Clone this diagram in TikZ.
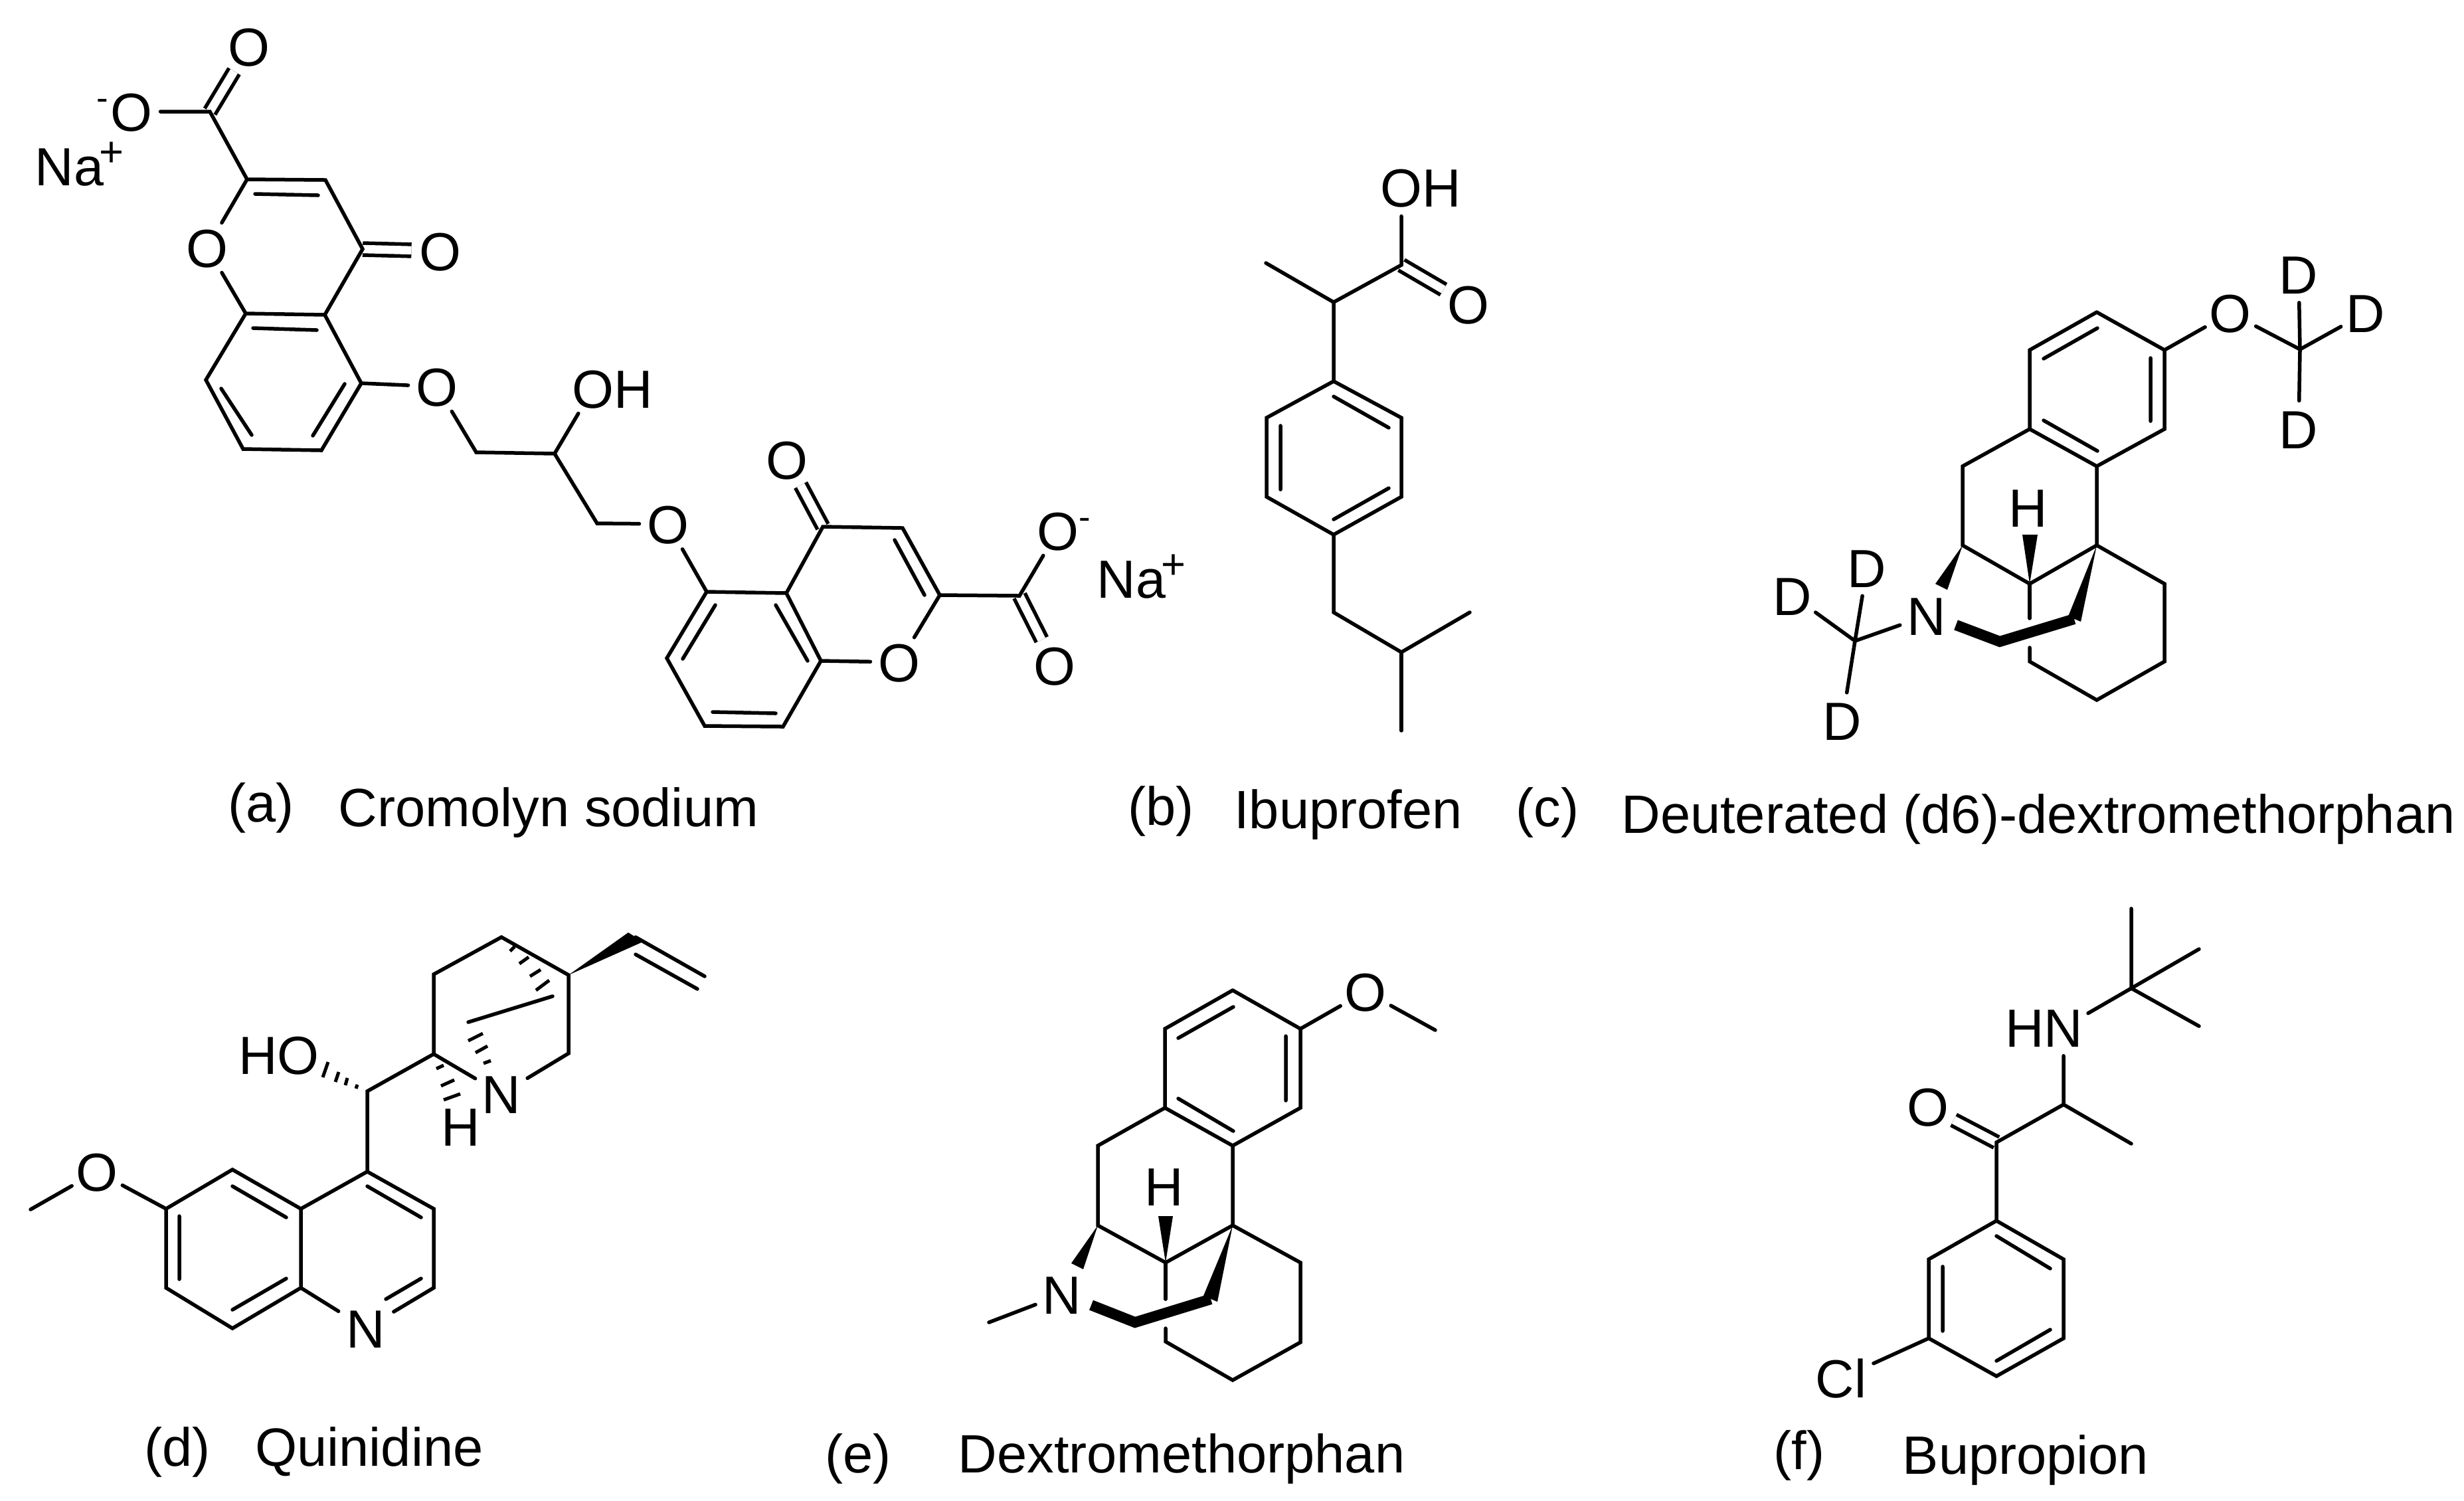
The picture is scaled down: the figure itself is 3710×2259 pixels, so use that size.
\documentclass[tikz,border=0pt]{standalone}
\usepackage{fontspec}
\setmainfont{Liberation Sans}
\newcommand{\atomfnt}{\fontsize{23pt}{25pt}\selectfont}
\newcommand{\capfnt}{\fontsize{23.1pt}{26pt}\selectfont}
\newcommand{\chgminus}{\raisebox{9pt}{\fontsize{15pt}{15pt}\selectfont -}}
\newcommand{\chgplus}{\kern-2pt\raisebox{8pt}{\fontsize{18pt}{18pt}\selectfont +}}
\tikzset{
  bond/.style={line width=0.055cm,line cap=round,line join=miter},
  dblbond/.style={line width=0.055cm,double=white,double distance=0.125cm},
  boldbond/.style={line width=0.16cm,line join=miter,line cap=butt},
  wedgebond/.style={fill=black,draw=none},
  hashtick/.style={line width=0.05cm},
  atom/.style={circle,inner sep=0pt,minimum size=0.84cm,font=\atomfnt,text height=16.5pt,text depth=0pt},
  ionlabel/.style={inner sep=0pt,font=\atomfnt,text height=16.5pt,text depth=0pt,anchor=west},
  captxt/.style={inner sep=0pt,font=\capfnt,text height=16.5pt,text depth=4.8pt}
}
\begin{document}
\begin{tikzpicture}[x=0.01cm,y=-0.01cm]
\useasboundingbox (0,0) rectangle (3710,2259);
% ---------- atoms
\foreach \n/\x/\y in {
 aC/316/168,a2/372/270,a3/490/271,a4/546/375,a4a/489/474,a8a/370/472,a5/544/577,a6/484/678,a7/366/676,a8/310/572,
 a9/717/681,a10/835/683,a11/899/788,
 b5/1064/891,b4a/1184/893,b4/1239/793,b3/1359/795,b2/1415/896,b8a/1236/995,b8/1179/1094,b7/1061/1093,b6/1004/991,bC/1535/897,
 iCO/2110/399,iCH/2008/455,iMe/1906/396,i1/2008/574,i2/2110/629,i3/2110/748,i4/2008/805,i5/1907/748,i6/1907/629,
 iCH2/2008/922,iCH3/2110/982,iM1/2213/922,iM2/2110/1100,
 c1/3157/470,c2/3259/527,c3/3259/646,c4/3157/702,c5/3056/646,c6/3056/527,cM/3463/526,
 c10/2955/702,c9/2955/821,c13/3157/821,c14/3056/879,c15/3056/931,c16/3056/975,
 c17/3259/879,c18/3259/996,c19/3157/1054,c20/3056/996,
 cA/2914/879,cB/2932/888,cW1/3114/928,cW2/3133/936,cH1/3045/805,cH2/3068/805,
 cT1/3123/932,cT2/3011/966,cT3/2945/941,cN/2793/965,
 q1/46/1821,q6/250/1820,q5/350/1761,q4a/453/1820,q8a/453/1939,q8/350/2000,q7/250/1939,
 q4/553/1764,q3/653/1820,q2/653/1939,q9/553/1643,qa/653/1587,qb/653/1467,qc/755/1411,qd/856/1468,qe/856/1586,
 qf/832/1500,qg/705/1539,qV/957/1411,qW/1061/1470,qWa/946/1404,qWb/968/1418,
 e1/1856/1491,e2/1958/1549,e3/1958/1668,e4/1856/1725,e5/1754/1668,e6/1754/1549,eM/2161/1551,
 e10/1653/1725,e9/1653/1845,e13/1856/1845,e14/1755/1901,e15/1755/1956,e16/1755/2000,
 e17/1958/1901,e18/1958/2021,e19/1856/2078,e20/1755/2020,
 eA/1613/1902,eB/1631/1911,eW1/1812/1951,eW2/1833/1960,eH1/1744/1831,eH2/1766/1831,
 eT1/1823/1956,eT2/1709/1991,eT3/1643/1965,eN/1489/1991,
 fC/3209/1488,fU/3209/1368,fR1/3311/1429,fR2/3311/1545,fCH/3107/1663,fMe/3209/1722,fCO/3006/1720,
 f1/3006/1838,f2/3107/1896,f3/3107/2015,f4/3006/2072,f5/2904/2015,f6/2904/1896
} \coordinate (\n) at (\x,\y);
% ---------- heteroatom labels
\node[atom] (aOt) at (375,70) {O};
\node[atom] (aOm) at (198,168) {\llap{\chgminus\kern1pt}O};
\node[ionlabel] (aNa) at (52,250) {Na\chgplus};
\node[atom] (aO1) at (312,373) {O};
\node[atom] (aO4) at (663,378) {O};
\node[atom] (aO5) at (658,582) {O};
\node[atom] (aOH) at (893,585) {O\rlap{H}};
\node[atom] (bO5) at (1006,789) {O};
\node[atom] (bO4) at (1185,692) {O};
\node[atom] (bO1) at (1354,997) {O};
\node[atom] (bOm) at (1593,799) {O\rlap{\chgminus}};
\node[atom] (bOd) at (1588,1002) {O};
\node[ionlabel] (bNa) at (1651,871) {Na\chgplus};
\node[atom] (iOH) at (2110,282) {O\rlap{H}};
\node[atom] (iO) at (2211,458) {O};
\node[atom] (cO) at (3358,471) {O};
\node[atom] (cD1) at (3461,413) {D};
\node[atom] (cD2) at (3562,471) {D};
\node[atom] (cD3) at (3461,646) {D};
\node[atom] (cH) at (3054,764) {H};
\node[atom] (cNn) at (2901,927) {N};
\node[atom] (cD4) at (2811,855) {D};
\node[atom] (cD5) at (2699,897) {D};
\node[atom] (cD6) at (2774,1085) {D};
\node[atom] (qO) at (146,1764) {O};
\node[atom,minimum size=0.96cm] (qN1) at (551,2000) {N};
\node[atom] (qHO) at (449,1588) {\llap{H}O};
\node[atom,minimum size=0.9cm] (qN2) at (755,1647) {N};
\node[atom] (qH) at (694,1696) {H};
\node[atom] (eO) at (2056,1493) {O};
\node[atom] (eH) at (1753,1786) {H};
\node[atom] (eNn) at (1599,1949) {N};
\node[atom] (fN) at (3107,1547) {\llap{H}N};
\node[atom] (fO) at (2903,1666) {O};
\node[atom,minimum size=1.06cm] (fCl) at (2772,2075) {Cl};
% ---------- captions
\node[captxt] (capa) at (393,1217) {(a)};
\node[captxt] (capA) at (826,1224) {Cromolyn sodium};
\node[captxt] (capb) at (1748,1222) {(b)};
\node[captxt] (capB) at (2030,1227) {Ibuprofen};
\node[captxt] (capc) at (2330,1224) {(c)};
\node[captxt] (capC) at (3069,1234) {Deuterated (d6)-dextromethorphan};
\node[captxt] (capd) at (267,2187) {(d)};
\node[captxt] (capD) at (556,2187) {Quinidine};
\node[captxt] (cape) at (1292,2197) {(e)};
\node[captxt] (capE) at (1779,2197) {Dextromethorphan};
\node[captxt] (capf) at (2709,2192) {(f)};
\node[captxt] (capF) at (3050,2199) {Bupropion};
% ---------- double bonds to oxygen
\draw[dblbond] (aC) -- (aOt);
\draw[dblbond] (a4) -- (aO4);
\draw[dblbond] (b4) -- (bO4);
\draw[dblbond] (bC) -- (bOd);
\draw[dblbond] (iCO) -- (iO);
\draw[dblbond] (fCO) -- (fO);
% ---------- (a) cromolyn
\draw[bond] (aOm) -- (aC) -- (a2) -- (a3) -- (a4) -- (a4a) -- (a8a);
\draw[bond] (a2) -- (aO1) -- (a8a);
\draw[bond] (a8a) -- (a8) -- (a7) -- (a6) -- (a5) -- (a4a);
\draw[bond] (a5) -- (aO5) -- (a9) -- (a10) -- (aOH);
\draw[bond] (a10) -- (a11) -- (bO5) -- (b5);
\draw[bond] (b5) -- (b4a) -- (b4) -- (b3) -- (b2) -- (bO1) -- (b8a) -- (b4a);
\draw[bond] (b5) -- (b6) -- (b7) -- (b8) -- (b8a);
\draw[bond] (b2) -- (bC) -- (bOm);
\draw[bond] (384,292) -- (479,294) (381,494) -- (477,497) (333,585) -- (379,655) (519,578) -- (471,656);
\draw[bond] (1347,813) -- (1392,896) (1168,911) -- (1216,995) (1077,911) -- (1028,992) (1073,1072) -- (1168,1074);
% ---------- (b) ibuprofen
\draw[bond] (iOH) -- (iCO) -- (iCH) -- (iMe);
\draw[bond] (iCH) -- (i1) -- (i2) -- (i3) -- (i4) -- (i5) -- (i6) -- (i1);
\draw[bond] (i4) -- (iCH2) -- (iCH3) -- (iM1);
\draw[bond] (iCH3) -- (iM2);
\draw[bond] (2008,597) -- (2091,644) (1928,641) -- (1928,737) (2008,782) -- (2091,735);
% ---------- (c) d6-dextromethorphan
\draw[bond] (c1) -- (c2) -- (c3) -- (c4) -- (c5) -- (c6) -- (c1);
\draw[bond] (3077,540) -- (3158,494) (3238,539) -- (3238,634) (3077,633) -- (3158,679);
\draw[bond] (c2) -- (cO) -- (cM) -- (cD1);
\draw[bond] (cM) -- (cD2);
\draw[bond] (cM) -- (cD3);
\draw[bond] (c5) -- (c10) -- (c9) -- (c14) -- (c13) -- (c4);
\draw[bond] (c14) -- (c15);
\draw[bond] (c16) -- (c20) -- (c19) -- (c18) -- (c17) -- (c13);
\fill[wedgebond] (c14) -- (cH1) -- (cH2) -- cycle;
\fill[wedgebond] (c9) -- (cA) -- (cB) -- cycle;
\fill[wedgebond] (c13) -- (cW1) -- (cW2) -- cycle;
\draw[boldbond] (cT1) -- (cT2) -- (cT3);
\draw[bond] (cNn) -- (cN) -- (cD4);
\draw[bond] (cN) -- (cD5);
\draw[bond] (cN) -- (cD6);
% ---------- (d) quinidine
\draw[bond] (q1) -- (qO) -- (q6) -- (q5) -- (q4a) -- (q8a) -- (q8) -- (q7) -- (q6);
\draw[bond] (q4a) -- (q4) -- (q3) -- (q2) -- (qN1) -- (q8a);
\draw[bond] (350,1786) -- (431,1833) (270,1831) -- (270,1926) (350,1972) -- (431,1925) (553,1786) -- (634,1833) (581,1956) -- (634,1925);
\draw[bond] (q4) -- (q9) -- (qa) -- (qb) -- (qc) -- (qd) -- (qe) -- (qN2) -- (qa);
\draw[bond] (qf) -- (qg);
\fill[wedgebond] (qd) -- (qWa) -- (qWb) -- cycle;
\draw[bond] (qV) -- (qW);
\draw[bond] (957,1437) -- (1050,1489);
\draw[hashtick] (536,1639) -- (538,1633) (520,1634) -- (523,1623) (505,1629) -- (510,1614) (486,1622) -- (494,1599);
\draw[hashtick] (768,1432) -- (775,1425) (782,1451) -- (796,1441) (798,1470) -- (814,1460) (807,1491) -- (827,1476);
\draw[hashtick] (705,1567) -- (727,1556) (716,1585) -- (734,1575) (728,1601) -- (739,1597);
\draw[hashtick] (657,1609) -- (668,1604) (664,1635) -- (684,1626) (668,1656) -- (693,1647);
% ---------- (e) dextromethorphan
\draw[bond] (e1) -- (e2) -- (e3) -- (e4) -- (e5) -- (e6) -- (e1);
\draw[bond] (1774,1563) -- (1857,1516) (1936,1560) -- (1936,1657) (1774,1654) -- (1857,1703);
\draw[bond] (e2) -- (eO) -- (eM);
\draw[bond] (e5) -- (e10) -- (e9) -- (e14) -- (e13) -- (e4);
\draw[bond] (e14) -- (e15);
\draw[bond] (e16) -- (e20) -- (e19) -- (e18) -- (e17) -- (e13);
\fill[wedgebond] (e14) -- (eH1) -- (eH2) -- cycle;
\fill[wedgebond] (e9) -- (eA) -- (eB) -- cycle;
\fill[wedgebond] (e13) -- (eW1) -- (eW2) -- cycle;
\draw[boldbond] (eT1) -- (eT2) -- (eT3);
\draw[bond] (eNn) -- (eN);
% ---------- (f) bupropion
\draw[bond] (fU) -- (fC) -- (fR1);
\draw[bond] (fC) -- (fR2);
\draw[bond] (fC) -- (fN) -- (fCH) -- (fMe);
\draw[bond] (fCH) -- (fCO) -- (f1) -- (f2) -- (f3) -- (f4) -- (f5) -- (f6) -- (f1);
\draw[bond] (f5) -- (fCl);
\draw[bond] (3006,1861) -- (3087,1910) (2925,1907) -- (2925,2004) (3006,2049) -- (3087,2002);
\end{tikzpicture}
\end{document}
